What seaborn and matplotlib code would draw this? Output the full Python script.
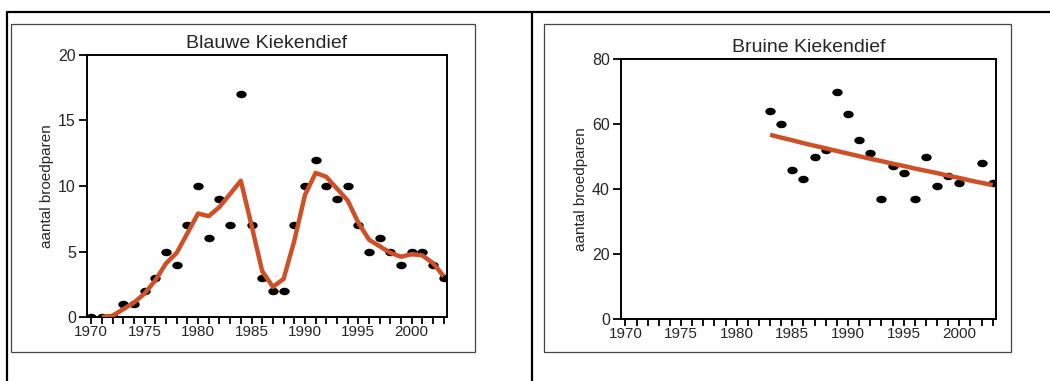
import numpy as np
import pandas as pd
import matplotlib
matplotlib.use("Agg")
import matplotlib.pyplot as plt
import seaborn as sns
from matplotlib.path import Path
from matplotlib.patches import Rectangle
from matplotlib.lines import Line2D
from matplotlib.ticker import MultipleLocator

# Blauwe Kiekendief: counted breeding pairs and smoothed trend
blauwe_years = list(range(1970, 2004))
blauwe_pairs = [0, 0, 0, 1, 1, 2, 3, 5, 4, 7, 10, 6, 9, 7, 17, 7, 3, 2, 2, 7,
                10, 12, 10, 9, 10, 7, 5, 6, 5, 4, 5, 5, 4, 3]
blauwe_trend_years = list(range(1971, 2004))
blauwe_trend = [0.0, 0.1, 0.6, 1.1, 1.8, 2.8, 4.1, 4.9, 6.4, 7.9, 7.7, 8.4, 9.4,
                10.4, 7.0, 3.5, 2.3, 2.9, 5.8, 9.3, 11.0, 10.7, 9.8, 8.9, 7.2,
                5.9, 5.4, 4.9, 4.6, 4.8, 4.7, 4.1, 3.1]

# Bruine Kiekendief: counted breeding pairs and trend line
bruine_years = [1983, 1984, 1985, 1986, 1987, 1988, 1989, 1990, 1991, 1992,
                1993, 1994, 1995, 1996, 1997, 1998, 1999, 2000, 2002, 2003]
bruine_pairs = [64, 60, 46, 43, 50, 52, 70, 63, 55, 51,
                37, 47, 45, 37, 50, 41, 44, 42, 48, 42]
bruine_trend_years = list(range(1983, 2004))
bruine_trend = [56.7, 55.8, 55.0, 54.1, 53.3, 52.5, 51.7, 50.9, 50.1, 49.3,
                48.6, 47.8, 47.1, 46.3, 45.6, 44.9, 44.1, 43.4, 42.6, 41.9, 41.2]

ORANGE = "#cf4f27"

sns.set_theme(style="ticks")
plt.rcParams["font.family"] = ["Liberation Sans", "DejaVu Sans"]

# slightly flattened dot, like the original
ellipse = Path(Path.unit_circle().vertices * np.array([1.0, 0.72]),
               Path.unit_circle().codes)

fig = plt.figure(figsize=(10.5, 3.81), dpi=100)
W, H = 1050, 381


def px_axes(left, top, right, bottom):
    return fig.add_axes([left / W, 1 - bottom / H, (right - left) / W, (bottom - top) / H])


# table lines and panel frames
fig.add_artist(Line2D([7 / W, 1], [1 - 12 / H] * 2, color="black", lw=1.6))
fig.add_artist(Line2D([7 / W] * 2, [0, 1 - 12 / H], color="black", lw=1.6))
fig.add_artist(Line2D([532 / W] * 2, [0, 1 - 12 / H], color="black", lw=1.6))
for l, r in [(11, 475), (544, 1011)]:
    fig.add_artist(Rectangle((l / W, 1 - 352 / H), (r - l) / W, 328 / H,
                             fill=False, edgecolor="#444444", lw=0.9))

panels = [
    (px_axes(87, 55, 447, 317), "Blauwe Kiekendief", blauwe_years, blauwe_pairs,
     blauwe_trend_years, blauwe_trend, 20, 5),
    (px_axes(621, 59, 996, 319), "Bruine Kiekendief", bruine_years, bruine_pairs,
     bruine_trend_years, bruine_trend, 80, 20),
]

for ax, title, yrs, pairs, tyrs, trend, ymax, ystep in panels:
    df = pd.DataFrame({"jaar": yrs, "paren": pairs})
    tdf = pd.DataFrame({"jaar": tyrs, "trend": trend})
    sns.scatterplot(data=df, x="jaar", y="paren", ax=ax, color="black",
                    marker=ellipse, s=56, linewidth=0, zorder=2)
    sns.lineplot(data=tdf, x="jaar", y="trend", ax=ax, color=ORANGE, lw=3.2,
                 zorder=3, solid_capstyle="butt")
    ax.set_xlim(1969.6, 2003.3)
    ax.set_ylim(0, ymax)
    ax.set_title(title, fontsize=14, pad=5)
    ax.set_xlabel("")
    ax.set_ylabel("aantal broedparen", fontsize=11, labelpad=3)
    ax.xaxis.set_major_locator(MultipleLocator(5))
    ax.xaxis.set_minor_locator(MultipleLocator(1))
    ax.yaxis.set_major_locator(MultipleLocator(ystep))
    ax.tick_params(axis="both", which="both", direction="out", length=5,
                   width=1.3, color="black", labelsize=11, pad=1)
    ax.tick_params(axis="y", length=6, labelsize=11.5, pad=2)
    for s in ax.spines.values():
        s.set_visible(True)
        s.set_linewidth(1.4)
        s.set_color("black")
    ax.set_facecolor("white")

fig.savefig("out.png", dpi=100, facecolor="white")
